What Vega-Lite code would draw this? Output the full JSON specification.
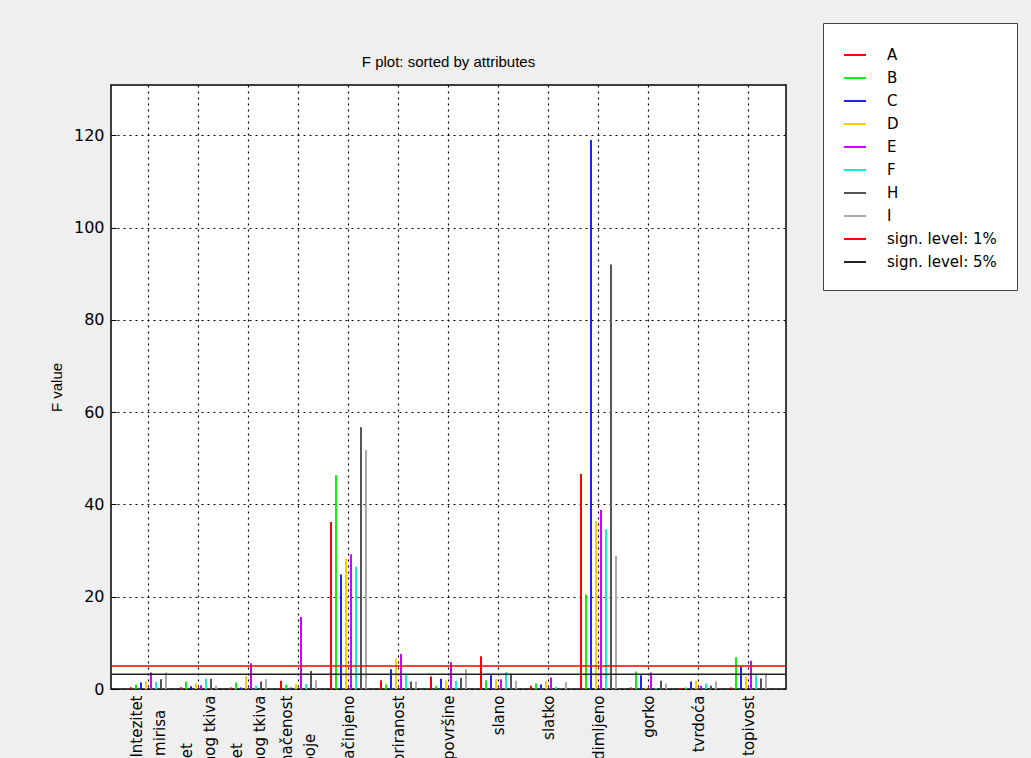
{
  "$schema": "https://vega.github.io/schema/vega-lite/v6.json",
  "width": 675,
  "height": 604,
  "autosize": {"type": "none"},
  "padding": {"left": 111, "top": 85, "right": 245, "bottom": 69},
  "background": "#efefef",
  "title": {"text": "F plot: sorted by attributes", "frame": "group", "anchor": "middle", "font": "Liberation Sans Narrow, Liberation Sans", "fontSize": 15, "fontWeight": "normal", "color": "#000000", "offset": 16, "dy": 63},
  "config": {
    "view": {"fill": "white", "stroke": "black", "strokeWidth": 1.5},
    "axis": {"labelFont": "DejaVu Sans", "labelFontSize": 15, "labelColor": "#000000", "domain": false, "gridColor": "#000000", "gridOpacity": 1, "gridDash": [2, 4], "gridWidth": 1.2}
  },
  "datasets": {
    "bars": [
      {"attr": "Intezitet\nmirisa", "A": 0.4, "B": 1.0, "C": 1.4, "D": 1.7, "E": 3.6, "F": 1.5, "H": 2.1, "I": 3.6},
      {"attr": "Intezitet\nboje mišićnog tkiva", "A": 0.4, "B": 1.6, "C": 0.6, "D": 1.2, "E": 0.8, "F": 2.2, "H": 2.2, "I": 0.7},
      {"attr": "Intezitet\nmirisa masnog tkiva", "A": 0.3, "B": 1.4, "C": 0.3, "D": 2.8, "E": 5.6, "F": 0.7, "H": 1.6, "I": 2.1},
      {"attr": "Ujednačenost\nboje", "A": 1.8, "B": 0.9, "C": 0.3, "D": 1.1, "E": 15.6, "F": 1.1, "H": 3.9, "I": 1.9},
      {"attr": "začinjeno", "A": 36.2, "B": 46.3, "C": 24.8, "D": 28.3, "E": 29.2, "F": 26.5, "H": 56.7, "I": 51.8},
      {"attr": "mramoriranost", "A": 1.9, "B": 1.0, "C": 4.3, "D": 6.6, "E": 7.6, "F": 3.0, "H": 1.6, "I": 1.6},
      {"attr": "boja površine", "A": 2.7, "B": 0.7, "C": 2.2, "D": 1.8, "E": 5.8, "F": 1.8, "H": 2.4, "I": 4.3},
      {"attr": "slano", "A": 7.1, "B": 1.9, "C": 3.0, "D": 2.1, "E": 2.1, "F": 3.7, "H": 3.3, "I": 1.8},
      {"attr": "slatko", "A": 0.7, "B": 1.2, "C": 1.0, "D": 1.8, "E": 2.5, "F": 0.5, "H": 0.2, "I": 1.5},
      {"attr": "dimljeno", "A": 46.6, "B": 20.5, "C": 119.0, "D": 36.4, "E": 38.8, "F": 34.6, "H": 92.0, "I": 28.9},
      {"attr": "gorko", "A": 0.3, "B": 3.8, "C": 3.0, "D": 0.3, "E": 3.6, "F": 0.2, "H": 1.8, "I": 1.2},
      {"attr": "tvrdoća", "A": 0.2, "B": 0.3, "C": 1.6, "D": 1.8, "E": 0.7, "F": 1.2, "H": 0.7, "I": 1.6},
      {"attr": "topivost", "A": 0.3, "B": 6.9, "C": 4.8, "D": 2.7, "E": 6.1, "F": 3.0, "H": 2.3, "I": 3.2}
    ],
    "levels": [
      {"series": "sign. level: 1%", "value": 5.0},
      {"series": "sign. level: 5%", "value": 3.2}
    ]
  },
  "layer": [
    {
      "data": {"name": "bars"},
      "transform": [{"fold": ["A", "B", "C", "D", "E", "F", "H", "I"], "as": ["series", "value"]}],
      "mark": {"type": "rule", "strokeWidth": 2},
      "encoding": {
        "x": {
          "field": "attr", "type": "nominal",
          "sort": ["Intezitet\nmirisa", "Intezitet\nboje mišićnog tkiva", "Intezitet\nmirisa masnog tkiva", "Ujednačenost\nboje", "začinjeno", "mramoriranost", "boja površine", "slano", "slatko", "dimljeno", "gorko", "tvrdoća", "topivost"],
          "scale": {"paddingInner": 0, "paddingOuter": 0.25},
          "axis": {"title": null, "grid": true, "ticks": false, "labelAngle": 270, "labelAlign": "right", "labelBaseline": "middle", "labelPadding": 6, "labelLineHeight": 23,
            "labelOffset": {"condition": {"test": "indexof(datum.value, '\\n') >= 0", "value": -11.5}, "value": 0},
            "labelExpr": "indexof(datum.label, '\\n') < 0 ? datum.label : [pad(split(datum.label, '\\n')[0], max(length(split(datum.label, '\\n')[0]), length(split(datum.label, '\\n')[1])), '\u00a0') + '\u200b', pad(split(datum.label, '\\n')[1], max(length(split(datum.label, '\\n')[0]), length(split(datum.label, '\\n')[1])), '\u00a0') + '\u200b']"}
        },
        "xOffset": {"field": "series", "type": "nominal", "sort": ["A", "B", "C", "D", "E", "F", "H", "I"], "scale": {"paddingInner": 0, "paddingOuter": 1.95}},
        "y": {
          "field": "value", "type": "quantitative",
          "scale": {"domain": [0, 130.9], "nice": false, "zero": true},
          "axis": {"title": "F value", "titleFont": "Liberation Sans Narrow, Liberation Sans", "titleFontSize": 15, "titleFontWeight": "normal", "titleColor": "#000000", "titlePadding": 9, "values": [0, 20, 40, 60, 80, 100, 120], "grid": true, "ticks": true, "tickSize": -5, "tickColor": "#000000", "tickWidth": 1, "labelPadding": 12, "labelFontSize": 16}
        },
        "y2": {"datum": 0},
        "color": {
          "field": "series", "type": "nominal",
          "scale": {"domain": ["A", "B", "C", "D", "E", "F", "H", "I", "sign. level: 1%", "sign. level: 5%"],
                    "range": ["#ff0000", "#11ee11", "#2222ff", "#ffcc00", "#d400ff", "#11eecc", "#555555", "#aaaaaa", "#ff0000", "#222222"]},
          "legend": {"title": null, "orient": "none", "legendX": 712, "legendY": -62, "symbolType": "stroke", "symbolSize": 484, "symbolStrokeWidth": 2, "labelFont": "DejaVu Sans", "labelFontSize": 15, "labelColor": "#000000", "labelOffset": 20, "padding": 20, "rowPadding": 3, "strokeColor": "#444444", "fillColor": "white", "labelLimit": 300}
        }
      }
    },
    {
      "data": {"name": "levels"},
      "mark": {"type": "rule", "strokeWidth": 1.5},
      "encoding": {
        "y": {"field": "value", "type": "quantitative"},
        "color": {"field": "series", "type": "nominal"}
      }
    }
  ]
}
